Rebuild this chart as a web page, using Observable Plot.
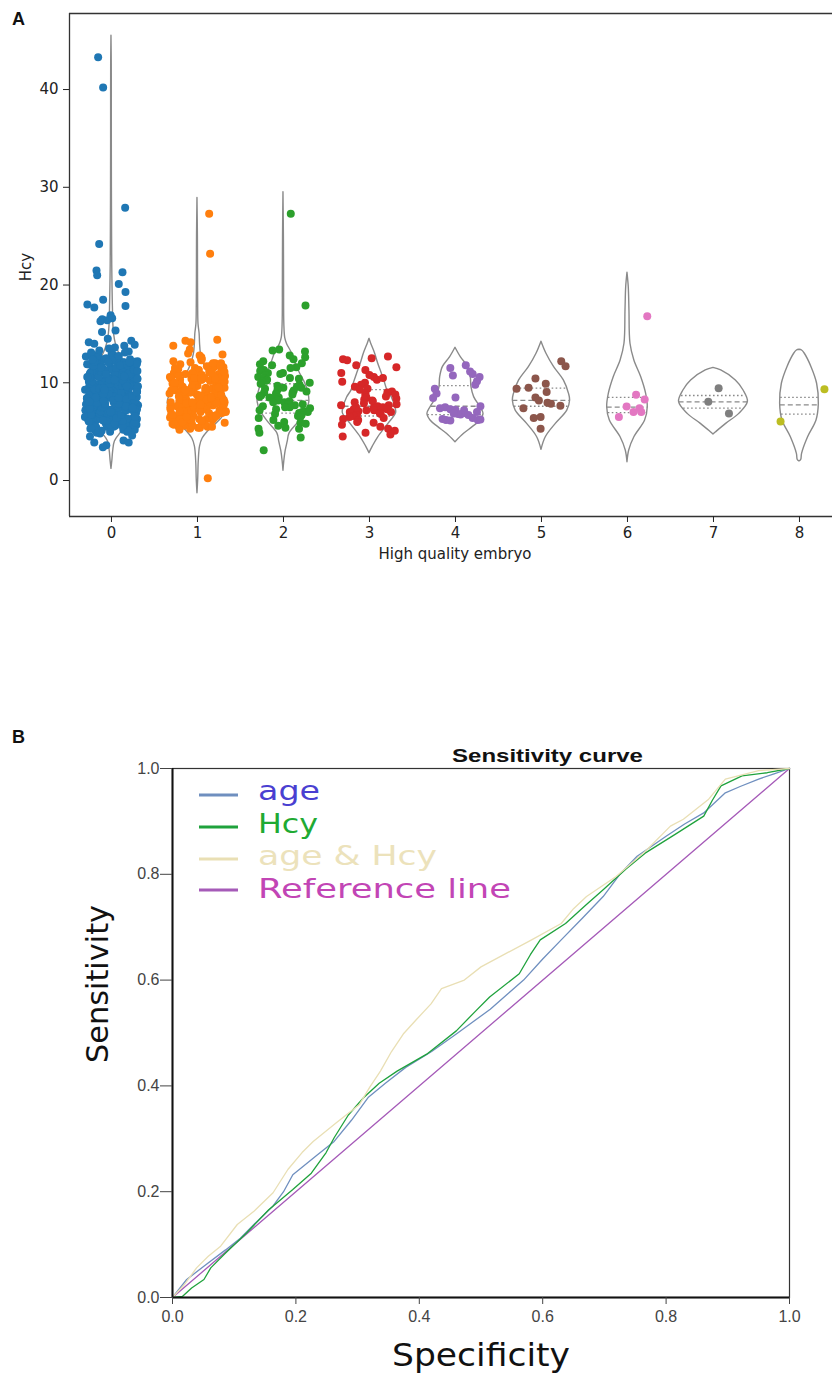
<!DOCTYPE html>
<html><head><meta charset="utf-8">
<script src="https://cdn.jsdelivr.net/npm/d3@7"></script>
<script src="https://cdn.jsdelivr.net/npm/@observablehq/plot@0.6"></script>
<style>
body{margin:0;background:#fff}
#root{position:relative;width:832px;height:1375px;overflow:hidden;background:#fff}
#root svg{position:absolute;left:0}
</style>
</head><body><div id="root"></div>
<script>
// ---------------- Panel A data ----------------
const groups = [0,1,2,3,4,5,6,7,8];
const groupColors = ["#1f77b4","#ff7f0e","#2ca02c","#d62728","#9467bd","#8c564b","#e377c2","#7f7f7f","#bcbd22"];

// dense parts of the strips (y values); horizontal jitter is a deterministic hash of the index
const hcyDense0 = [13.8,13.6,13.5,13.3,13.2,13.1,13.0,12.9,12.8,12.7,12.7,12.6,12.5,12.4,12.4,12.3,12.2,12.2,12.1,12.0,12.0,11.9,11.8,11.8,11.7,11.6,11.6,11.5,11.4,11.4,11.3,11.3,11.2,11.1,11.1,11.0,11.0,10.9,10.9,10.8,10.8,10.7,10.7,10.6,10.6,10.5,10.5,10.4,10.4,10.3,10.3,10.2,10.2,10.1,10.1,10.0,10.0,9.9,9.9,9.9,9.8,9.8,9.7,9.7,9.7,9.6,9.6,9.5,9.5,9.5,9.4,9.4,9.3,9.3,9.3,9.2,9.2,9.1,9.1,9.1,9.0,9.0,9.0,8.9,8.9,8.9,8.8,8.8,8.8,8.7,8.7,8.7,8.6,8.6,8.6,8.5,8.5,8.5,8.4,8.4,8.4,8.3,8.3,8.3,8.2,8.2,8.2,8.1,8.1,8.1,8.0,8.0,8.0,7.9,7.9,7.9,7.8,7.8,7.8,7.7,7.7,7.7,7.6,7.6,7.6,7.5,7.5,7.5,7.4,7.4,7.4,7.3,7.3,7.2,7.2,7.2,7.1,7.1,7.0,7.0,7.0,6.9,6.9,6.8,6.8,6.7,6.7,6.7,6.6,6.6,6.5,6.5,6.4,6.4,6.3,6.3,6.3,6.2,6.2,6.1,6.1,6.0,6.0,5.9,5.9,5.8,5.8,5.7,5.7,5.6,5.6,5.5,5.5,5.4,5.3,5.3,5.2,5.1,5.0,4.9,4.8,12.9,12.1,11.5,10.8,10.2,9.6,9.0,8.4,7.8,7.2,6.6,6.0,5.4,
  5.0,5.2,5.4,5.6,5.8,6.0,6.2,6.4,6.6,6.8,7.0,7.2,7.4,7.6,7.8,8.0,8.2,8.4,8.6,8.8,9.0,9.2,9.4,9.6,9.8,10.0,10.2,10.4,10.6,10.8,11.0,11.2,11.4,11.6,11.8,12.0,12.2,12.4,12.6,
  5.1,5.5,5.9,6.3,6.7,7.1,7.5,7.9,8.3,8.7,9.1,9.5,9.9,10.3,10.7,11.1,11.5,11.9,12.3,
  5.3,5.7,6.1,6.5,6.9,7.3,7.7,8.1,8.5,8.9,9.3,9.7,10.1,10.5,10.9,11.3,11.7,12.1,12.5,
  6.05,6.45,6.85,7.25,7.65,8.05,8.45,8.85,9.25,9.65,10.05,10.45,10.85,11.25,
  6.25,6.65,7.05,7.45,7.85,8.25,8.65,9.05,9.45,9.85,10.25,10.65,11.05,
  5.45,5.85,7.35,7.95,8.55,9.15,9.75,10.35,10.95,11.55,12.15,12.75,13.1,
  5.15,5.35,5.55,5.75,5.95,6.15,6.35,6.55,6.75,6.95,7.15,7.35,7.55,7.75,7.95,8.15,8.35,8.55,8.75,8.95,9.15,9.35,9.55,9.75,9.95,10.15,10.35,10.55,10.75,10.95,11.15,11.35,11.55,11.75,11.95,12.15,12.35,
  6.1,6.4,6.7,7.0,7.3,7.6,7.9,8.2,8.5,8.8,9.1,9.4,9.7,10.0,10.3,10.6,10.9,11.2,11.5,11.8,12.1,
  7.45,7.85,8.25,8.65,9.05,9.45,9.85,10.25,10.65,8.05,8.45,8.85,9.25,9.65];
const hcyDense1 = [13.8,13.4,13.0,12.9,12.8,12.6,12.5,12.4,12.3,12.1,12.0,12.0,11.9,11.8,11.7,11.6,11.5,11.4,11.3,11.3,11.2,11.1,11.0,11.0,10.9,10.8,10.8,10.7,10.6,10.6,10.5,10.4,10.4,10.3,10.2,10.2,10.1,10.0,10.0,9.9,9.9,9.8,9.7,9.7,9.6,9.6,9.5,9.5,9.4,9.4,9.3,9.3,9.2,9.2,9.1,9.1,9.0,9.0,8.9,8.9,8.9,8.8,8.8,8.7,8.7,8.7,8.6,8.6,8.5,8.5,8.5,8.4,8.4,8.3,8.3,8.3,8.2,8.2,8.1,8.1,8.1,8.0,8.0,8.0,7.9,7.9,7.8,7.8,7.8,7.7,7.7,7.6,7.6,7.6,7.5,7.5,7.4,7.4,7.4,7.3,7.3,7.2,7.2,7.1,7.1,7.0,7.0,6.9,6.9,6.8,6.8,6.7,6.7,6.6,6.6,6.5,6.5,6.4,6.4,6.3,6.3,6.2,6.2,6.1,6.1,6.0,6.0,5.9,5.9,5.8,5.8,5.7,5.6,5.5,5.5,5.4,5.3,5.2,11.6,10.9,10.3,9.8,9.2,8.6,8.0,7.5,6.9,6.4,5.9,
  5.4,5.7,6.0,6.3,6.6,6.9,7.2,7.5,7.8,8.1,8.4,8.7,9.0,9.3,9.6,9.9,10.2,10.5,10.8,11.1,11.4,11.7,12.0,
  5.6,6.1,6.6,7.1,7.6,8.1,8.6,9.1,9.6,10.1,10.6,11.1,
  6.2,6.8,7.3,7.9,8.4,8.9,9.4,9.9,10.4,
  6.45,7.05,7.65,8.25,8.85,9.45,
  5.5,5.9,6.3,6.7,7.1,7.5,7.9,8.3,8.7,9.1,9.5,9.9,10.3,10.7,11.1,11.5,
  6.0,6.5,7.0,7.5,8.0,8.5,9.0,9.5,10.0,10.5,11.0,
  7.25,7.75,8.25,8.75,9.25];
const hcyDense2 = [13.4,13.3,13.2,12.8,12.6,12.4,12.2,12.0,11.9,11.8,11.6,11.5,11.3,11.2,11.0,11.0,10.9,10.8,10.6,10.5,10.5,10.4,10.3,10.2,10.1,10.0,9.9,9.8,9.7,9.6,9.5,9.5,9.4,9.3,9.2,9.1,9.0,9.0,8.9,8.8,8.8,8.7,8.6,8.5,8.5,8.4,8.3,8.2,8.1,8.0,8.0,7.9,7.8,7.8,7.7,7.6,7.5,7.5,7.4,7.3,7.2,7.1,7.0,7.0,6.9,6.8,6.7,6.6,6.5,6.4,6.2,6.0,5.9,5.8,5.6,5.4,5.3];
const hcyDense3 = [12.7,12.5,12.4,12.3,11.8,11.6,11.3,11.0,10.8,10.6,10.5,10.3,10.1,10.0,9.8,9.6,9.4,9.3,9.1,9.0,8.9,8.8,8.7,8.6,8.5,8.4,8.3,8.2,8.1,8.0,7.9,7.8,7.7,7.7,7.6,7.5,7.5,7.4,7.3,7.3,7.2,7.2,7.1,7.0,7.0,6.9,6.8,6.7,6.6,6.5,6.4,6.3,6.2,6.0,5.9,5.7,5.5,5.3,5.1,4.9,4.7,4.5];
const jitterWidth = [0.31,0.33,0.31,0.33];

// individually read points: [offset from group centre, Hcy]
const hcyPts0 = [[-0.155,43.3],[-0.097,40.2],[0.159,27.9],[-0.143,24.2],[-0.174,21.5],[-0.166,21.0],[0.128,21.3],[0.085,20.1],[0.163,19.3],[-0.097,18.5],[-0.28,18.0],[-0.2,17.7],[0.163,17.85],[-0.01,16.9],[-0.108,16.5],[-0.128,16.3],[-0.05,16.4],[0.008,16.6],[-0.11,15.2],[0.047,15.35],[-0.264,14.15],[-0.043,14.5],[0.23,14.3],[0.27,13.9],[-0.2,14.0],[-0.2,3.9],[-0.06,3.6],[-0.1,3.4],[0.14,4.1],[0.2,3.9],[0.24,4.6],[-0.25,4.5]];
const hcyPts1 = [[0.136,27.3],[0.147,23.2],[0.12,0.24],[-0.14,14.3],[-0.08,14.15],[0.23,14.4],[-0.28,12.2]];
const hcyPts2 = [[0.085,27.3],[0.256,17.9],[-0.23,3.1],[0.2,4.4],[-0.29,5.3],[-0.28,4.9]];
const hcyPts3 = [];
const hcyPts4 = [[-0.06,11.5],[-0.03,10.75],[0.12,11.8],[0.17,11.15],[0.2,10.9],[0.28,10.6],[0.25,10.15],[0.23,9.8],[-0.24,9.4],[-0.22,8.9],[-0.26,8.45],[0.0,8.5],[-0.12,7.5],[-0.06,7.3],[0.0,7.25],[0.1,7.2],[0.29,7.6],[0.25,7.0],[0.1,6.9],[0.15,6.7],[0.06,6.75],[-0.15,6.3],[-0.11,6.2],[-0.06,6.15],[0.2,6.4],[0.26,6.2],[0.29,6.25],[0.03,6.8],[-0.02,6.85],[-0.18,7.4]];
const hcyPts5 = [[0.23,12.2],[0.28,11.7],[-0.07,10.45],[-0.29,9.4],[-0.15,9.5],[0.05,9.9],[0.06,9.05],[-0.07,8.5],[-0.03,8.2],[0.07,7.95],[0.11,7.85],[0.22,7.65],[-0.21,7.4],[-0.09,6.4],[-0.01,6.5],[-0.01,5.3]];
const hcyPts6 = [[0.23,16.8],[0.10,8.77],[0.2,8.3],[-0.01,7.57],[0.14,7.4],[0.07,7.0],[0.16,7.0],[-0.1,6.5]];
const hcyPts7 = [[0.06,9.45],[-0.06,8.05],[0.18,6.85]];
const hcyPts8 = [[0.29,9.35],[-0.22,6.05]];

// violin outlines: [Hcy, half-width in group units]
const violin0 = [[1.2,0],[2,0.01],[3,0.02],[4,0.04],[5,0.12],[6,0.2],[7,0.26],[8,0.28],[9,0.28],[10,0.26],[11,0.22],[12,0.16],[13,0.09],[14,0.05],[15,0.03],[16,0.022],[18,0.016],[20,0.012],[22,0.009],[25,0.007],[30,0.005],[35,0.004],[40,0.004],[43,0.003],[45.5,0]];
const violin1 = [[-1.3,0],[0,0.008],[2,0.015],[3.5,0.03],[4.3,0.06],[5,0.12],[5.8,0.22],[6.6,0.3],[7.5,0.34],[8.3,0.34],[9,0.3],[10,0.2],[11,0.12],[12,0.07],[13,0.04],[14,0.03],[15,0.025],[16,0.012],[18,0.008],[22,0.006],[25,0.005],[28.9,0]];
const violin2 = [[1.0,0],[2,0.01],[3,0.025],[4,0.05],[4.8,0.07],[6,0.18],[7,0.26],[8,0.3],[9,0.29],[10,0.25],[11,0.19],[12,0.14],[13,0.1],[14,0.04],[14.6,0.02],[16,0.01],[20,0.007],[25,0.005],[29.5,0]];
const violin3 = [[2.8,0],[3.5,0.04],[4.4,0.1],[5.8,0.22],[6.9,0.31],[7.5,0.3],[8.5,0.26],[9.2,0.21],[10,0.18],[10.9,0.145],[12,0.1],[13,0.065],[14,0.02],[14.5,0]];
const violin4 = [[3.92,0],[4.78,0.1],[5.46,0.2],[6.14,0.29],[6.82,0.326],[7.5,0.29],[8.53,0.217],[9.55,0.186],[10.57,0.178],[11.6,0.147],[12.62,0.062],[13.58,0]];
const violin5 = [[3.14,0],[4.43,0.05],[5.8,0.167],[7.16,0.3],[8.19,0.333],[8.87,0.32],[10.24,0.26],[11.6,0.147],[12.97,0.058],[14.2,0]];
const violin6 = [[1.87,0],[3.07,0.02],[4.43,0.08],[6.14,0.205],[7.5,0.236],[8.87,0.217],[10.57,0.16],[12.28,0.08],[13.99,0.035],[17.4,0.023],[19.78,0.015],[21.26,0]];
const violin7 = [[4.71,0],[4.94,0.03],[5.8,0.147],[6.82,0.3],[8.05,0.4],[9.21,0.35],[10.24,0.26],[11.26,0.09],[11.53,0]];
const violin8 = [[1.95,0],[2.1,0.02],[2.73,0.03],[4.43,0.1],[6.14,0.198],[7.85,0.225],[9.9,0.205],[11.6,0.14],[12.97,0.062],[13.3,0.03],[13.38,0]];

// quartiles [q1, median, q3]
const quartiles = [[7.2,8.8,10.5],[6.9,8.0,9.5],[6.9,8.2,9.9],[6.6,7.6,9.3],[6.75,7.6,9.7],[7.6,8.2,9.45],[6.95,7.5,8.5],[7.4,8.05,8.7],[6.8,7.75,8.5]];

const yTicksA = [0,10,20,30,40];

// ---------------- Panel B data ----------------
// [specificity, sensitivity]
const rocAge = [[0,0],[0.023,0.034],[0.054,0.062],[0.086,0.09],[0.11,0.112],[0.132,0.138],[0.163,0.173],[0.18,0.2],[0.195,0.232],[0.233,0.268],[0.262,0.295],[0.29,0.335],[0.317,0.378],[0.345,0.405],[0.378,0.435],[0.42,0.465],[0.46,0.498],[0.515,0.545],[0.569,0.6],[0.6,0.64],[0.63,0.676],[0.665,0.718],[0.698,0.758],[0.725,0.8],[0.753,0.834],[0.8,0.872],[0.83,0.895],[0.861,0.916],[0.896,0.954],[0.92,0.966],[0.95,0.98],[0.975,0.99],[1,1]];
const rocHcy = [[0,0],[0.016,0.002],[0.031,0.018],[0.051,0.034],[0.062,0.056],[0.086,0.084],[0.12,0.122],[0.156,0.166],[0.195,0.204],[0.225,0.235],[0.249,0.274],[0.262,0.302],[0.285,0.345],[0.31,0.378],[0.335,0.405],[0.364,0.428],[0.412,0.46],[0.46,0.504],[0.49,0.54],[0.514,0.568],[0.562,0.612],[0.58,0.648],[0.596,0.676],[0.637,0.707],[0.67,0.742],[0.698,0.771],[0.735,0.81],[0.766,0.84],[0.814,0.875],[0.861,0.91],[0.875,0.94],[0.889,0.967],[0.923,0.986],[0.964,0.992],[1,1]];
const rocBoth = [[0,0],[0.019,0.024],[0.039,0.056],[0.058,0.078],[0.078,0.097],[0.105,0.138],[0.132,0.163],[0.163,0.198],[0.187,0.242],[0.21,0.274],[0.228,0.295],[0.265,0.33],[0.303,0.365],[0.32,0.398],[0.337,0.428],[0.355,0.465],[0.374,0.498],[0.395,0.525],[0.419,0.555],[0.436,0.584],[0.473,0.6],[0.5,0.625],[0.54,0.65],[0.582,0.676],[0.63,0.707],[0.65,0.735],[0.671,0.758],[0.719,0.796],[0.766,0.843],[0.807,0.891],[0.828,0.904],[0.869,0.942],[0.896,0.98],[0.95,0.996],[1,1]];
const rocRef = [[0,0],[1,1]];
const rocSeries = ["age","Hcy","age & Hcy","Reference line"];
const lineColors = ["#6f8fbf","#1fa23c","#e9dfb4","#a55ab8"];
const textColors = ["#4a3fd1","#1faa33","#ece2bb","#c245b5"];
const xyTicksB = [0,0.2,0.4,0.6,0.8,1.0];

// ---------------- build panel A ----------------
const dense = [hcyDense0,hcyDense1,hcyDense2,hcyDense3];
const pts = [hcyPts0,hcyPts1,hcyPts2,hcyPts3,hcyPts4,hcyPts5,hcyPts6,hcyPts7,hcyPts8];
const violins = [violin0,violin1,violin2,violin3,violin4,violin5,violin6,violin7,violin8];

function hashJitter(i, g) {
  const s = Math.sin((i + 1) * 12.9898 + (g + 1) * 78.233) * 43758.5453;
  return s - Math.floor(s);
}
const stripRows = [];
dense.forEach((arr, g) => {
  arr.forEach((y, i) => {
    const u = hashJitter(i, g);
    stripRows.push({g, x: g + (u - 0.5) * 2 * jitterWidth[g], y});
  });
});
pts.forEach((arr, g) => arr.forEach(([o, y]) => stripRows.push({g, x: g + o, y})));

const violinRows = [];
violins.forEach((arr, g) => arr.forEach(([y, w]) => violinRows.push({g, y, w})));

function widthAt(arr, y) {
  for (let i = 1; i < arr.length; i++) {
    if (y <= arr[i][0]) {
      const [y0, w0] = arr[i-1], [y1, w1] = arr[i];
      return w0 + (w1 - w0) * (y - y0) / (y1 - y0);
    }
  }
  return 0;
}
const quartRows = [], medRows = [];
quartiles.forEach(([q1, m, q3], g) => {
  [q1, q3].forEach(y => { const w = widthAt(violins[g], y); quartRows.push({g, y, x1: g - w, x2: g + w}); });
  const w = widthAt(violins[g], m); medRows.push({g, y: m, x1: g - w, x2: g + w});
});

const xDomA = [-0.488, 8.384];
const yDomA = [-3.68, 47.78];
const plotA = Plot.plot({
  width: 832, height: 570,
  marginLeft: 69, marginRight: 0, marginTop: 13, marginBottom: 54,
  x: {domain: xDomA}, y: {domain: yDomA},
  color: {type: "identity"},
  style: {fontFamily: "DejaVu Sans", fontSize: "15px", color: "#222", background: "transparent", overflow: "visible"},
  marks: [
    Plot.areaX(violinRows, {y: "y", x1: d => d.g - d.w, x2: d => d.g + d.w, z: "g", fill: "white", stroke: "#8a8a8a", strokeWidth: 1.4, curve: "catmull-rom"}),
    Plot.ruleY(quartRows, {y: "y", x1: "x1", x2: "x2", stroke: "#8a8a8a", strokeWidth: 1.3, strokeDasharray: "1.6,2.4"}),
    Plot.ruleY(medRows, {y: "y", x1: "x1", x2: "x2", stroke: "#8a8a8a", strokeWidth: 1.3, strokeDasharray: "5,3"}),
    Plot.dot(stripRows, {x: "x", y: "y", r: 4, fill: d => groupColors[d.g], stroke: null}),
    Plot.ruleX([xDomA[0]], {stroke: "#333", strokeWidth: 1.3}),
    Plot.ruleY(yDomA, {stroke: "#333", strokeWidth: 1.3}),
    Plot.axisX({ticks: groups, tickSize: 6, tickPadding: 5, label: null, fontSize: 15, tickFormat: d => String(d)}),
    Plot.axisY({ticks: yTicksA, tickSize: 6, tickPadding: 5, label: null, fontSize: 15})
  ]
});
plotA.style.top = "0px";
document.getElementById("root").appendChild(plotA);
const sa = d3.select(plotA);
sa.append("text").attr("x", 12).attr("y", 25).attr("text-anchor", "start").attr("font-family", "Liberation Sans, Arial").attr("font-weight", "bold").attr("font-size", 18).attr("fill", "#111").text("A");
sa.append("text").attr("transform", "translate(31,267) rotate(-90)").attr("text-anchor", "middle").attr("font-family", "DejaVu Sans").attr("font-size", 15).attr("fill", "#222").text("Hcy");
sa.append("text").attr("x", 455).attr("y", 559).attr("text-anchor", "middle").attr("font-family", "DejaVu Sans").attr("font-size", 15).attr("fill", "#222").text("High quality embryo");

// ---------------- build panel B ----------------
const rocRows = [];
[rocRef, rocAge, rocHcy, rocBoth].forEach((arr, k) => {
  const idx = [3, 0, 1, 2][k];
  arr.forEach(([s, t]) => rocRows.push({series: rocSeries[idx], color: lineColors[idx], spec: s, sens: t}));
});

const plotB = Plot.plot({
  width: 832, height: 675,
  marginLeft: 172, marginRight: 43, marginTop: 68, marginBottom: 78,
  x: {domain: [0, 1]}, y: {domain: [0, 1]},
  color: {type: "identity"},
  style: {fontFamily: "Liberation Sans, Arial", fontSize: "16px", color: "#444", background: "transparent", overflow: "visible"},
  marks: [
    Plot.frame({stroke: "#333", strokeWidth: 1.2}),
    Plot.line(rocRows, {x: "spec", y: "sens", z: "series", stroke: "color", strokeWidth: 1.3}),
    Plot.ruleX([0], {stroke: "#111", strokeWidth: 2}),
    Plot.ruleY([0], {stroke: "#111", strokeWidth: 2}),
    Plot.axisX({ticks: xyTicksB, tickFormat: d3.format(".1f"), tickSize: 7, tickPadding: 6, label: null, fontSize: 16}),
    Plot.axisY({ticks: xyTicksB, tickFormat: d3.format(".1f"), tickSize: 12, tickPadding: 1, label: null, fontSize: 16})
  ]
});
plotB.style.top = "700px";
document.getElementById("root").appendChild(plotB);
const sb = d3.select(plotB);
sb.append("text").attr("x", 12).attr("y", 43).attr("text-anchor", "start").attr("font-family", "Liberation Sans, Arial").attr("font-weight", "bold").attr("font-size", 18).attr("fill", "#111").text("B");
sb.append("text").attr("x", 452).attr("y", 62).attr("text-anchor", "start").attr("font-family", "Liberation Sans, Arial").attr("font-weight", "bold").attr("font-size", 19).attr("fill", "#111")
  .attr("textLength", 191).attr("lengthAdjust", "spacingAndGlyphs").text("Sensitivity curve");
sb.append("text").attr("transform", "translate(108,284) rotate(-90)").attr("text-anchor", "middle").attr("font-family", "DejaVu Sans").attr("font-size", 30).attr("fill", "#111")
  .attr("textLength", 158).attr("lengthAdjust", "spacingAndGlyphs").text("Sensitivity");
sb.append("text").attr("x", 392).attr("y", 666).attr("text-anchor", "start").attr("font-family", "DejaVu Sans").attr("font-size", 32).attr("fill", "#111")
  .attr("textLength", 178).attr("lengthAdjust", "spacingAndGlyphs").text("Specificity");
// legend
const legY = [95, 127, 159, 190];
const legBase = [100, 133, 165, 198];
const legLen = [62, 60, 179, 253];
rocSeries.forEach((name, i) => {
  sb.append("line").attr("x1", 199).attr("x2", 238).attr("y1", legY[i]).attr("y2", legY[i]).attr("stroke", lineColors[i]).attr("stroke-width", 3);
  sb.append("text").attr("x", 258).attr("y", legBase[i]).attr("text-anchor", "start").attr("font-family", "DejaVu Sans").attr("font-size", 26).attr("fill", textColors[i])
    .attr("textLength", legLen[i]).attr("lengthAdjust", "spacingAndGlyphs").text(name);
});
</script>
</body></html>
